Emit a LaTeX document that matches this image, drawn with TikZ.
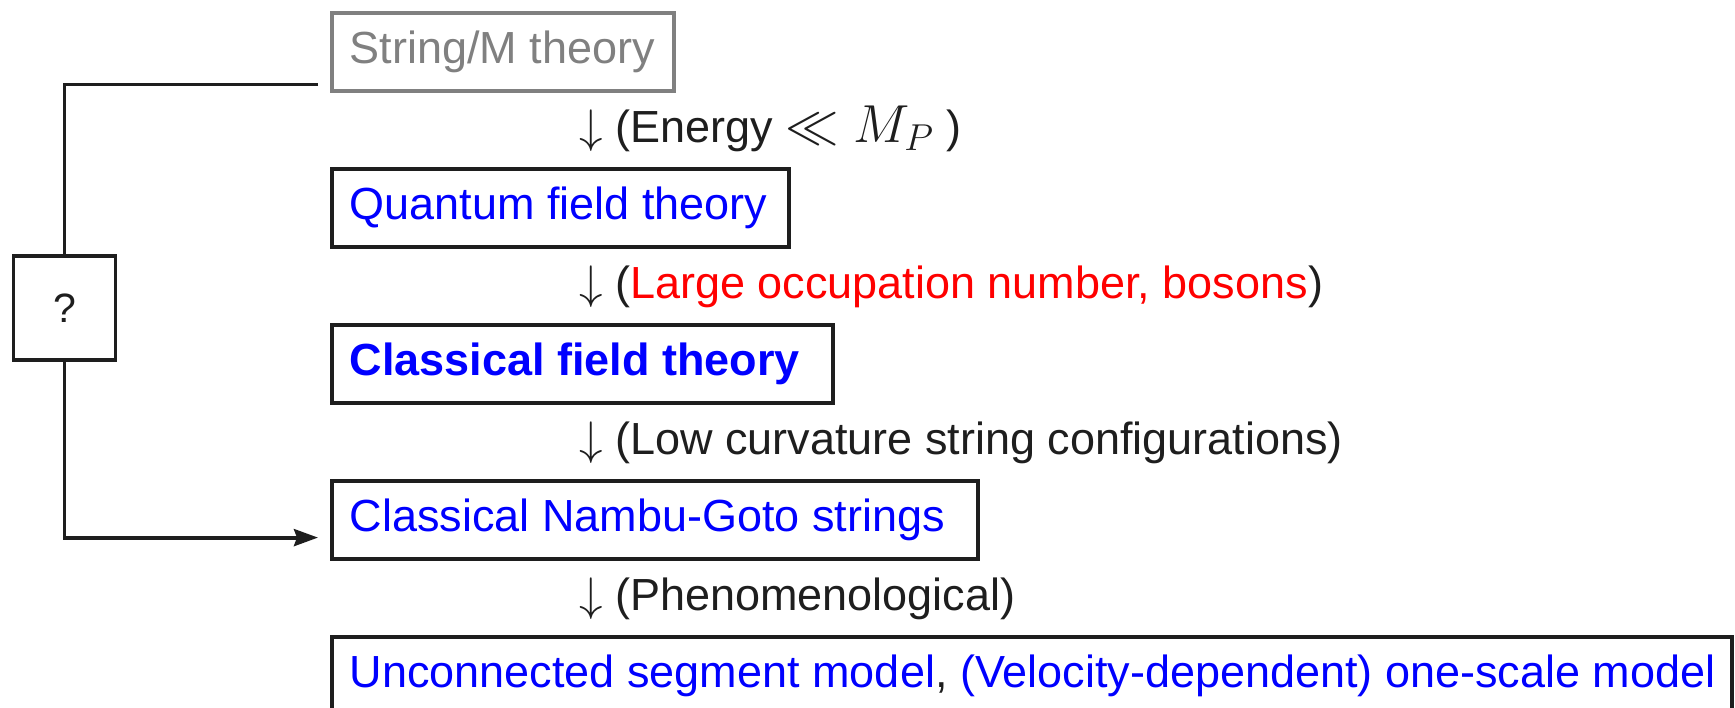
\RequirePackage{fix-cm}
\documentclass[tikz,border=0pt]{standalone}
\usepackage{fontspec}
\setmainfont{Liberation Sans}
\usetikzlibrary{arrows.meta,calc}
\definecolor{ink}{HTML}{1E1E1E}
\definecolor{smgray}{HTML}{808080}
\definecolor{tblue}{RGB}{0,0,255}
\definecolor{tred}{RGB}{255,0,0}
\newcommand\fixedw[2]{\hbox to #1{#2\hss}}
\newcommand\darr{{\fontsize{47}{53}\selectfont$\downarrow$}}
\tikzset{
  bigfont/.style={font=\fontsize{45}{53}\selectfont},
  stagebox/.style={bigfont, draw=ink, line width=3.6pt, anchor=north west,
    minimum height=78pt, inner xsep=18pt, inner ysep=0pt, text=tblue},
  lbl/.style={bigfont, anchor=base west, inner sep=0pt, text=ink},
  link/.style={draw=ink, line width=3.8pt},
}
\begin{document}
\begin{tikzpicture}[x=1pt,y=-1pt]
\useasboundingbox (0,0) rectangle (1735,708);
\node[stagebox, draw=smgray, text=smgray] (sm) at (330,11) {\fixedw{306pt}{String/M theory}};
\node[stagebox] (qft) at (330,167) {\fixedw{421pt}{Quantum field theory}};
\node[stagebox] (cft) at (330,323) {\fixedw{465pt}{\bfseries Classical field theory}};
\node[stagebox] (ng) at (330,479) {\fixedw{610pt}{Classical Nambu-Goto strings}};
\node[stagebox] (usm) at (330,635) {\fixedw{1364pt}{Unconnected segment model\textcolor{ink}{,} (Velocity-dependent) one-scale model}};

\node[lbl] (l1) at (579,142.5) {\darr{} (Energy {\fontsize{53.5}{60}\selectfont$\ll M_P$} )};
\node[lbl] (l2) at (579,298.5) {\darr{} (\textcolor{tred}{Large occupation number, bosons})};
\node[lbl] (l3) at (579,454.5) {\darr{} (Low curvature string configurations)};
\node[lbl] (l4) at (579,610.5) {\darr{} (Phenomenological)};

\node[draw=ink, line width=3.6pt, minimum width=102pt, minimum height=104pt, inner sep=0pt,
  font=\fontsize{41}{48}\selectfont, text=ink] (q) at (64.5,308) {?};

\coordinate (smout) at ($(sm.south west)+(-12,-8)$);
\coordinate (ngin) at ($(ng.south west)+(-12,-23)$);
\draw[link] (smout) -| (q.north);
\draw[link, -{Stealth[length=24pt,width=17pt,inset=3pt]}] (q.south) |- (ngin);
\end{tikzpicture}
\end{document}
